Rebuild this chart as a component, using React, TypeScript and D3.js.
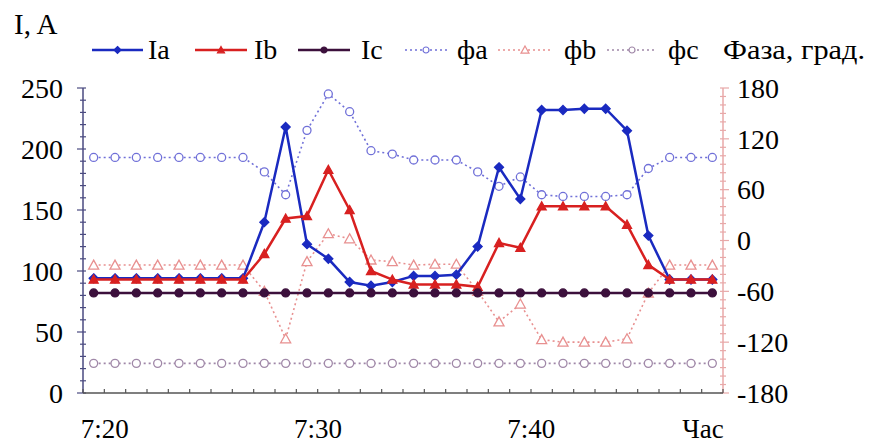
import React, { useEffect, useRef } from 'react';
import * as d3 from 'd3';

// time labels, one per minute
const times = d3.range(30).map(m => '7:' + (20 + m));
const timeTicks = ['7:20', '7:30', '7:40'];

// currents, A
const Ia = [94, 94, 94, 94, 94, 94, 94, 94, 140, 218, 122, 110, 91, 88, 91, 96, 96, 97, 120, 185, 159, 232, 232, 233, 233, 215, 129, 93, 93, 93];
const Ib = [93, 93, 93, 93, 93, 93, 93, 93, 114, 143, 145, 183, 150, 100, 93, 89, 89, 89, 87, 123, 119, 153, 153, 153, 153, 138, 105, 93, 93, 93];
const Ic = [82, 82, 82, 82, 82, 82, 82, 82, 82, 82, 82, 82, 82, 82, 82, 82, 82, 82, 82, 82, 82, 82, 82, 82, 82, 82, 82, 82, 82, 82];

// phases, degrees
const fa = [98, 98, 98, 98, 98, 98, 98, 98, 81, 54, 130, 173, 152, 106, 102, 95, 95, 95, 81, 64, 75, 54, 52, 52, 52, 54, 85, 98, 98, 98];
const fb = [-29, -29, -29, -29, -29, -29, -29, -29, -60, -116, -25, 8, 2, -23, -25, -29, -28, -28, -60, -96, -75, -117, -120, -120, -120, -116, -62, -29, -29, -29];
const fc = [-145, -145, -145, -145, -145, -145, -145, -145, -145, -145, -145, -145, -145, -145, -145, -145, -145, -145, -145, -145, -145, -145, -145, -145, -145, -145, -145, -145, -145, -145];

const currentTicks = [0, 50, 100, 150, 200, 250];
const phaseTicks = [-180, -120, -60, 0, 60, 120, 180];

const FONT = '"Liberation Serif", "Times New Roman", serif';

export default function App() {
  const ref = useRef<SVGSVGElement>(null);

  useEffect(() => {
    const svg = d3.select(ref.current);
    svg.selectAll('*').remove();

    const left = 83, right = 723, top = 88, bottom = 393;

    const x = d3.scaleBand<string>().domain(times).range([left, right]);
    const cx = (i: number) => (x(times[i]) as number) + x.bandwidth() / 2;
    const yI = d3.scaleLinear().domain([0, 250]).range([bottom, top]);
    const yP = d3.scaleLinear().domain([-180, 180]).range([bottom, top]);

    const g = svg.append('g');

    // left axis (current)
    g.append('line').attr('x1', left).attr('x2', left).attr('y1', top).attr('y2', bottom)
      .attr('stroke', '#4a4a80').attr('stroke-width', 1.5);
    d3.range(0, 251, 10).forEach(v => {
      const major = v % 50 === 0;
      g.append('line')
        .attr('x1', major ? left - 6 : left - 3).attr('x2', left + 3)
        .attr('y1', yI(v)).attr('y2', yI(v))
        .attr('stroke', '#4a4a80').attr('stroke-width', 1.2);
    });
    g.selectAll('.ly').data(currentTicks).enter().append('text')
      .attr('x', 63).attr('y', d => yI(d)).attr('dy', '0.35em')
      .attr('text-anchor', 'end').attr('font-size', 28).attr('font-family', FONT)
      .text(d => d);

    // right axis (phase)
    g.append('line').attr('x1', right).attr('x2', right).attr('y1', top).attr('y2', bottom)
      .attr('stroke', '#e8a8a8').attr('stroke-width', 1.5);
    d3.range(-180, 181, 10).forEach(v => {
      const major = v % 60 === 0;
      g.append('line')
        .attr('x1', right - 3).attr('x2', major ? right + 6 : right + 3)
        .attr('y1', yP(v)).attr('y2', yP(v))
        .attr('stroke', '#e8a8a8').attr('stroke-width', 1.2);
    });
    g.selectAll('.ry').data(phaseTicks).enter().append('text')
      .attr('x', 737).attr('y', d => yP(d)).attr('dy', '0.35em')
      .attr('text-anchor', 'start').attr('font-size', 28).attr('font-family', FONT)
      .text(d => d);

    // bottom axis
    g.append('line').attr('x1', left).attr('x2', right).attr('y1', bottom).attr('y2', bottom)
      .attr('stroke', '#555').attr('stroke-width', 1.5);
    times.concat(['end']).forEach((t, i) => {
      const xx = left + i * x.bandwidth();
      g.append('line').attr('x1', xx).attr('x2', xx).attr('y1', bottom - 4).attr('y2', bottom)
        .attr('stroke', '#555').attr('stroke-width', 1.2);
    });
    g.selectAll('.xl').data(timeTicks).enter().append('text')
      .attr('x', d => (x(d) as number) + x.bandwidth() / 2 + 11).attr('y', 438)
      .attr('text-anchor', 'middle').attr('font-size', 27).attr('font-family', FONT)
      .text(d => d);
    g.append('text').attr('x', 703).attr('y', 438).attr('text-anchor', 'middle')
      .attr('font-size', 27).attr('font-family', FONT).text('Час');

    // axis titles
    g.append('text').attr('x', 14).attr('y', 34).attr('font-size', 29).attr('font-family', FONT).text('I, A');
    g.append('text').attr('x', 723).attr('y', 59).attr('font-size', 28).attr('font-family', FONT)
      .attr('textLength', 142).attr('lengthAdjust', 'spacingAndGlyphs').text('Фаза, град.');

    // series
    const series = [
      { name: 'фc', data: fc, scale: yP, color: '#a088a8', dash: '2,3', width: 1.6, marker: 'circle', fill: 'white', size: 4 },
      { name: 'фb', data: fb, scale: yP, color: '#e89090', dash: '2,3', width: 1.6, marker: 'triangle', fill: 'white', size: 5 },
      { name: 'фa', data: fa, scale: yP, color: '#7070d8', dash: '2,3', width: 1.6, marker: 'circle', fill: 'white', size: 4 },
      { name: 'Ia', data: Ia, scale: yI, color: '#1a2ac0', dash: null, width: 2.5, marker: 'diamond', fill: '#1a2ac0', size: 4.5 },
      { name: 'Ib', data: Ib, scale: yI, color: '#d82020', dash: null, width: 2.5, marker: 'triangle', fill: '#d82020', size: 4.5 },
      { name: 'Ic', data: Ic, scale: yI, color: '#3c103c', dash: null, width: 2.5, marker: 'circle', fill: '#3c103c', size: 4 },
    ];

    const markerPath = (kind: string, s: number) => {
      if (kind === 'diamond') return `M0,${-s}L${s},0L0,${s}L${-s},0Z`;
      if (kind === 'triangle') return `M0,${-s}L${s},${s * 0.8}L${-s},${s * 0.8}Z`;
      return d3.symbol(d3.symbolCircle, Math.PI * s * s)() as string;
    };

    series.forEach(s => {
      const line = d3.line<number>().x((d, i) => cx(i)).y(d => s.scale(d));
      g.append('path').datum(s.data).attr('d', line).attr('fill', 'none')
        .attr('stroke', s.color).attr('stroke-width', s.width)
        .attr('stroke-dasharray', s.dash as any);
      g.selectAll('.m-' + s.name).data(s.data).enter().append('path')
        .attr('transform', (d, i) => `translate(${cx(i)},${s.scale(d)})`)
        .attr('d', markerPath(s.marker, s.size))
        .attr('fill', s.fill).attr('stroke', s.color).attr('stroke-width', 1.3);
    });

    // legend
    const legend = [
      { s: series[3], x1: 92, x2: 143, tx: 148 },
      { s: series[4], x1: 195, x2: 247, tx: 254 },
      { s: series[5], x1: 298, x2: 350, tx: 361 },
      { s: series[2], x1: 405, x2: 447, tx: 457 },
      { s: series[1], x1: 498, x2: 552, tx: 564 },
      { s: series[0], x1: 607, x2: 657, tx: 668 },
    ];
    legend.forEach(l => {
      const ly = 50;
      g.append('line').attr('x1', l.x1).attr('x2', l.x2).attr('y1', ly).attr('y2', ly)
        .attr('stroke', l.s.color).attr('stroke-width', l.s.width)
        .attr('stroke-dasharray', l.s.dash as any);
      g.append('path').attr('transform', `translate(${(l.x1 + l.x2) / 2},${ly})`)
        .attr('d', markerPath(l.s.marker, l.s.size - 1))
        .attr('fill', l.s.fill).attr('stroke', l.s.color).attr('stroke-width', 1.2);
      g.append('text').attr('x', l.tx).attr('y', 59).attr('font-size', 28).attr('font-family', FONT)
        .text(l.s.name);
    });
  }, []);

  return (
    <svg ref={ref} width={872} height={445}
      style={{ position: 'absolute', left: 0, top: 0, background: 'white' }} />
  );
}
